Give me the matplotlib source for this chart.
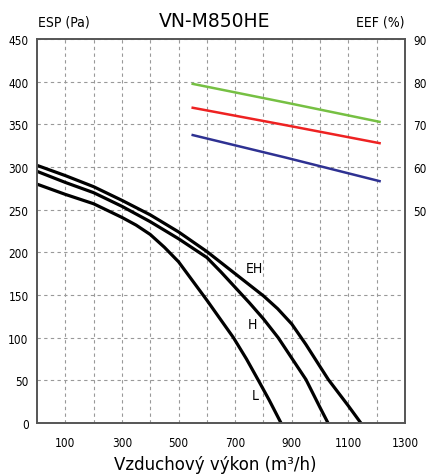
import numpy as np
import matplotlib.pyplot as plt

plt.rcParams['font.family'] = ['DejaVu Sans']
plt.rcParams['font.stretch'] = 'condensed'

# Fan curves (airflow m3/h, ESP Pa)
eh_x = [0, 100, 200, 300, 400, 500, 600, 700, 800, 850, 900, 950, 1000, 1029, 1100, 1144]
eh_y = [302, 290, 277, 261, 244, 224, 201, 175, 149, 134, 116, 92, 66, 51, 20, 0]
h_x = [0, 100, 200, 300, 400, 500, 600, 650, 700, 750, 800, 852, 900, 950, 1000, 1028]
h_y = [295, 282, 270, 254, 236, 216, 194, 177, 159, 141, 122, 100, 76, 51, 18, 0]
l_x = [0, 100, 200, 300, 350, 400, 450, 500, 600, 647, 694, 740, 782, 820, 862]
l_y = [280, 268, 257, 241, 232, 221, 206, 189, 144, 122, 100, 75, 50, 27, 0]

# Efficiency lines (airflow m3/h, EEF %)
eff_x = [550, 880, 1210]
green_y = [79.5, 75.1, 70.6]
red_y = [73.9, 69.8, 65.6]
blue_y = [67.5, 62.2, 56.7]

fig = plt.figure(figsize=(4.3, 4.77), dpi=100)
ax = fig.add_axes([0.086, 0.111, 0.856, 0.805])

ax.set_xlim(0, 1300)
ax.set_ylim(0, 450)
ax.set_xticks([100, 300, 500, 700, 900, 1100, 1300])
ax.set_xticks(np.arange(100, 1300, 100), minor=True)
ax.set_yticks(np.arange(0, 451, 50))
ax.tick_params(length=0, labelsize=8.5, pad=6)
ax.tick_params(axis='x', pad=9)
ax.tick_params(which='minor', length=0)
ax.grid(True, which='both', color='#999999', linestyle=(0, (3, 3)), linewidth=0.8)

for s in ax.spines.values():
    s.set_color('#555555')
    s.set_linewidth(1.2)

ax.plot(eh_x, eh_y, color='black', lw=2.3, solid_joinstyle='round')
ax.plot(h_x, h_y, color='black', lw=2.3, solid_joinstyle='round')
ax.plot(l_x, l_y, color='black', lw=2.3, solid_joinstyle='round')

ax.text(768, 182, 'EH', fontsize=10, ha='center', va='center')
ax.text(760, 116, 'H', fontsize=10, ha='center', va='center')
ax.text(770, 33, 'L', fontsize=10, ha='center', va='center')

ax2 = ax.twinx()
ax2.set_ylim(0, 90)
ax2.set_yticks([50, 60, 70, 80, 90])
ax2.tick_params(length=0, labelsize=8.5, pad=6)
ax2.plot(eff_x, green_y, color='#76c043', lw=1.8)
ax2.plot(eff_x, red_y, color='#ee2222', lw=1.8)
ax2.plot(eff_x, blue_y, color='#2e3192', lw=1.8)
for s in ax2.spines.values():
    s.set_color('#555555')
    s.set_linewidth(1.2)

fig.text(0.5, 0.955, 'VN-M850HE', fontsize=13.5, ha='center', va='center',
         fontstretch='normal')
fig.text(0.088, 0.952, 'ESP (Pa)', fontsize=10, ha='left', va='center')
fig.text(0.94, 0.952, 'EEF (%)', fontsize=10, ha='right', va='center')
fig.text(0.5, 0.025, 'Vzduchový výkon (m³/h)', fontsize=12, ha='center',
         va='center', fontstretch='normal')

fig.savefig('out.png', dpi=100)
